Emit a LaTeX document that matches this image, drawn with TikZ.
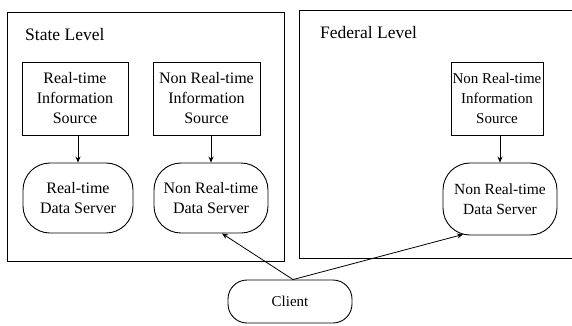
\documentclass[tikz,border=0pt]{standalone}
\usepackage{fontspec}
\setmainfont{Liberation Serif}
\usetikzlibrary{arrows.meta,calc}
\begin{document}
\begin{tikzpicture}[x=1pt,y=-1pt,
  level/.style={draw, line width=0.9pt},
  title/.style={anchor=west, inner sep=0pt, font=\fontsize{17.5}{20}\selectfont},
  srcbox/.style={draw, line width=0.8pt, align=center, inner sep=0pt, font=\fontsize{16}{20}\selectfont},
  server/.style={draw, line width=0.9pt, rounded corners=27pt, align=center, inner sep=0pt, font=\fontsize{16}{20}\selectfont},
  arr/.style={line width=0.8pt, -{Stealth[length=6pt,width=5pt]}}]
\useasboundingbox (0,0) rectangle (572,325);
% level frames
\node[level, minimum width=277pt, minimum height=249pt, inner sep=0pt] (state) at (145.5,136.5) {};
\node[level, minimum width=280pt, minimum height=248pt, inner sep=0pt] (federal) at (439,134) {};
\node[title] (statet) at (25,35) {State Level};
\node[title] (fedt) at (320,33) {Federal Level};
% sources
\node[srcbox, minimum width=106pt, minimum height=73pt] (src1) at (75,98.5) {Real-time\\Information\\Source};
\node[srcbox, minimum width=107pt, minimum height=73pt] (src2) at (206.5,98.5) {Non Real-time\\Information\\Source};
\node[srcbox, minimum width=92pt, minimum height=73pt, font=\fontsize{15}{20}\selectfont] (src3) at (497,98.5) {Non Real-time\\Information\\Source};
% servers
\node[server, minimum width=110pt, minimum height=70pt] (srv1) at (78,198) {Real-time\\Data Server};
\node[server, minimum width=114pt, minimum height=70pt] (srv2) at (211,198) {Non Real-time\\Data Server};
\node[server, minimum width=114pt, minimum height=72pt, font=\fontsize{15.5}{20}\selectfont] (srv3) at (500,199) {Non Real-time\\Data Server};
% client
\node[server, rounded corners=19pt, minimum width=124pt, minimum height=43pt, font=\fontsize{15}{18}\selectfont] (client) at (290,301.5) {Client};
% arrows
\draw[arr] (srv1.north |- src1.south) -- (srv1.north);
\draw[arr] (srv2.north |- src2.south) -- (srv2.north);
\draw[arr] (srv3.north |- src3.south) -- (srv3.north);
\coordinate (cl) at ($(client.north)+(3,0)$);
\draw[arr] (cl) -- ($(srv2.south)+(11,0)$);
\draw[arr] (cl) -- ($(srv3.south)+(-37,-1)$);
\end{tikzpicture}
\end{document}
